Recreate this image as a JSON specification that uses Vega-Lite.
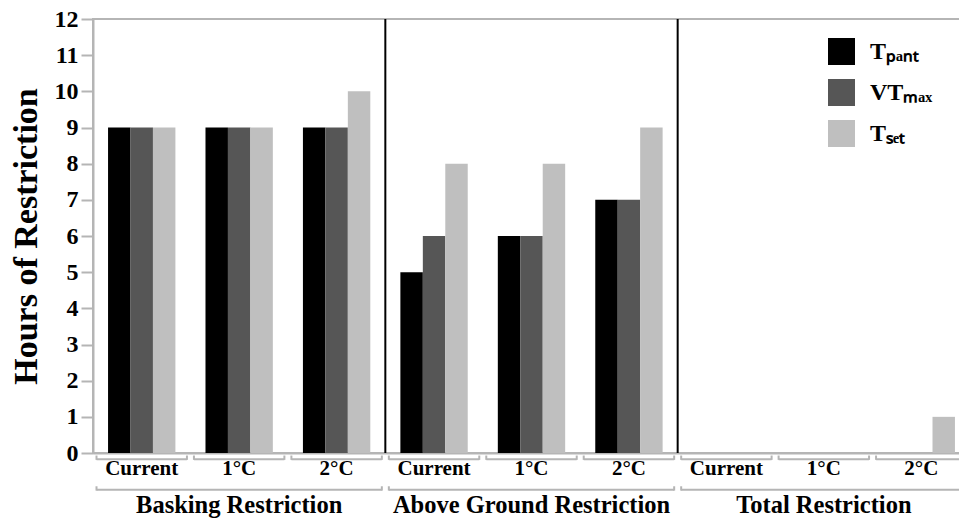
{
  "$schema": "https://vega.github.io/schema/vega-lite/v6.json",
  "width": 877,
  "height": 434,
  "autosize": {"type": "none"},
  "padding": {"left": 93, "top": 19, "right": 0, "bottom": 66},
  "background": "white",
  "config": {
    "font": "Liberation Serif",
    "view": {"stroke": "#b5b5b5", "strokeWidth": 2},
    "axisY": {
      "grid": false, "labelOverlap": false, "tickCount": 12,
      "domainColor": "#b5b5b5", "domainWidth": 2, "tickColor": "#b5b5b5", "tickWidth": 2, "tickSize": 12,
      "labelFont": "Liberation Serif", "labelFontSize": 24, "labelFontWeight": "bold", "labelColor": "black", "labelPadding": 3,
      "titleFont": "Liberation Serif", "titleFontSize": 34, "titleFontWeight": "bold", "titleColor": "black", "titlePadding": 11
    },
    "axisX": {
      "ticks": false, "domainColor": "#b5b5b5", "domainWidth": 2, "labelAngle": 0,
      "labelExpr": "split(datum.label, '|')[1]",
      "labelFont": "Liberation Serif", "labelFontSize": 21, "labelFontWeight": "bold", "labelColor": "black", "labelPadding": 4
    }
  },
  "datasets": {
    "bars": [
      {"panel": "Basking Restriction", "group": "Current", "key": "Basking Restriction|Current", "series": "Tₚₐₙₜ", "hours": 9},
      {"panel": "Basking Restriction", "group": "Current", "key": "Basking Restriction|Current", "series": "VTₘₐₓ", "hours": 9},
      {"panel": "Basking Restriction", "group": "Current", "key": "Basking Restriction|Current", "series": "Tₛₑₜ", "hours": 9},
      {"panel": "Basking Restriction", "group": "1°C", "key": "Basking Restriction|1°C", "series": "Tₚₐₙₜ", "hours": 9},
      {"panel": "Basking Restriction", "group": "1°C", "key": "Basking Restriction|1°C", "series": "VTₘₐₓ", "hours": 9},
      {"panel": "Basking Restriction", "group": "1°C", "key": "Basking Restriction|1°C", "series": "Tₛₑₜ", "hours": 9},
      {"panel": "Basking Restriction", "group": "2°C", "key": "Basking Restriction|2°C", "series": "Tₚₐₙₜ", "hours": 9},
      {"panel": "Basking Restriction", "group": "2°C", "key": "Basking Restriction|2°C", "series": "VTₘₐₓ", "hours": 9},
      {"panel": "Basking Restriction", "group": "2°C", "key": "Basking Restriction|2°C", "series": "Tₛₑₜ", "hours": 10},
      {"panel": "Above Ground Restriction", "group": "Current", "key": "Above Ground Restriction|Current", "series": "Tₚₐₙₜ", "hours": 5},
      {"panel": "Above Ground Restriction", "group": "Current", "key": "Above Ground Restriction|Current", "series": "VTₘₐₓ", "hours": 6},
      {"panel": "Above Ground Restriction", "group": "Current", "key": "Above Ground Restriction|Current", "series": "Tₛₑₜ", "hours": 8},
      {"panel": "Above Ground Restriction", "group": "1°C", "key": "Above Ground Restriction|1°C", "series": "Tₚₐₙₜ", "hours": 6},
      {"panel": "Above Ground Restriction", "group": "1°C", "key": "Above Ground Restriction|1°C", "series": "VTₘₐₓ", "hours": 6},
      {"panel": "Above Ground Restriction", "group": "1°C", "key": "Above Ground Restriction|1°C", "series": "Tₛₑₜ", "hours": 8},
      {"panel": "Above Ground Restriction", "group": "2°C", "key": "Above Ground Restriction|2°C", "series": "Tₚₐₙₜ", "hours": 7},
      {"panel": "Above Ground Restriction", "group": "2°C", "key": "Above Ground Restriction|2°C", "series": "VTₘₐₓ", "hours": 7},
      {"panel": "Above Ground Restriction", "group": "2°C", "key": "Above Ground Restriction|2°C", "series": "Tₛₑₜ", "hours": 9},
      {"panel": "Total Restriction", "group": "Current", "key": "Total Restriction|Current", "series": "Tₚₐₙₜ", "hours": 0},
      {"panel": "Total Restriction", "group": "Current", "key": "Total Restriction|Current", "series": "VTₘₐₓ", "hours": 0},
      {"panel": "Total Restriction", "group": "Current", "key": "Total Restriction|Current", "series": "Tₛₑₜ", "hours": 0},
      {"panel": "Total Restriction", "group": "1°C", "key": "Total Restriction|1°C", "series": "Tₚₐₙₜ", "hours": 0},
      {"panel": "Total Restriction", "group": "1°C", "key": "Total Restriction|1°C", "series": "VTₘₐₓ", "hours": 0},
      {"panel": "Total Restriction", "group": "1°C", "key": "Total Restriction|1°C", "series": "Tₛₑₜ", "hours": 0},
      {"panel": "Total Restriction", "group": "2°C", "key": "Total Restriction|2°C", "series": "Tₚₐₙₜ", "hours": 0},
      {"panel": "Total Restriction", "group": "2°C", "key": "Total Restriction|2°C", "series": "VTₘₐₓ", "hours": 0},
      {"panel": "Total Restriction", "group": "2°C", "key": "Total Restriction|2°C", "series": "Tₛₑₜ", "hours": 1}
    ],
    "groups": [
      {"key": "Basking Restriction|Current"},
      {"key": "Basking Restriction|1°C"},
      {"key": "Basking Restriction|2°C"},
      {"key": "Above Ground Restriction|Current"},
      {"key": "Above Ground Restriction|1°C"},
      {"key": "Above Ground Restriction|2°C"},
      {"key": "Total Restriction|Current"},
      {"key": "Total Restriction|1°C"},
      {"key": "Total Restriction|2°C"}
    ],
    "panels": [
      {"panel": "Basking Restriction", "first": "Basking Restriction|Current", "mid": "Basking Restriction|1°C", "last": "Basking Restriction|2°C"},
      {"panel": "Above Ground Restriction", "first": "Above Ground Restriction|Current", "mid": "Above Ground Restriction|1°C", "last": "Above Ground Restriction|2°C"},
      {"panel": "Total Restriction", "first": "Total Restriction|Current", "mid": "Total Restriction|1°C", "last": "Total Restriction|2°C"}
    ]
  },
  "layer": [
    {
      "data": {"name": "bars"},
      "mark": {"type": "bar"},
      "encoding": {
        "x": {
          "field": "key", "type": "nominal", "sort": null,
          "scale": {
            "domain": ["Basking Restriction|Current", "Basking Restriction|1°C", "Basking Restriction|2°C", "Above Ground Restriction|Current", "Above Ground Restriction|1°C", "Above Ground Restriction|2°C", "Total Restriction|Current", "Total Restriction|1°C", "Total Restriction|2°C"],
            "paddingInner": 0, "paddingOuter": 0
          },
          "axis": {"title": null}
        },
        "xOffset": {
          "field": "series", "type": "nominal",
          "scale": {"domain": ["Tₚₐₙₜ", "VTₘₐₓ", "Tₛₑₜ"], "paddingInner": 0, "paddingOuter": 0.67}
        },
        "y": {
          "field": "hours", "type": "quantitative",
          "scale": {"domain": [0, 12], "nice": false},
          "axis": {"title": "Hours of Restriction"}
        },
        "color": {
          "field": "series", "type": "nominal",
          "scale": {"domain": ["Tₚₐₙₜ", "VTₘₐₓ", "Tₛₑₜ"], "range": ["#000000", "#565656", "#bfbfbf"]},
          "legend": {
            "title": null, "orient": "none", "legendX": 735, "legendY": 19, "padding": 0,
            "symbolType": "square", "symbolSize": 729, "symbolStrokeWidth": 0, "symbolOpacity": 1,
            "labelFont": "Liberation Serif", "labelFontSize": 24, "labelFontWeight": "bold", "labelColor": "black",
            "labelOffset": 15, "rowPadding": 14
          }
        }
      }
    },
    {
      "data": {"name": "panels"},
      "transform": [{"filter": "datum.panel != 'Basking Restriction'"}],
      "mark": {"type": "rule", "color": "black", "strokeWidth": 2},
      "encoding": {
        "x": {"field": "first", "type": "nominal", "bandPosition": 0, "axis": {"title": null}},
        "y": {"datum": 0, "axis": {"title": "Hours of Restriction"}},
        "y2": {"datum": 12}
      }
    },
    {
      "data": {"name": "groups"},
      "mark": {"type": "rule", "color": "#b5b5b5", "strokeWidth": 2, "xOffset": 3.5, "x2Offset": -3.5},
      "encoding": {
        "x": {"field": "key", "type": "nominal", "bandPosition": 0, "axis": {"title": null}},
        "x2": {"field": "key", "bandPosition": 1},
        "y": {"datum": -0.17, "axis": {"title": "Hours of Restriction"}}
      }
    },
    {
      "data": {"name": "groups"},
      "mark": {"type": "rule", "color": "#b5b5b5", "strokeWidth": 2, "xOffset": 3.5},
      "encoding": {
        "x": {"field": "key", "type": "nominal", "bandPosition": 0, "axis": {"title": null}},
        "y": {"datum": -0.07, "axis": {"title": "Hours of Restriction"}},
        "y2": {"datum": -0.19}
      }
    },
    {
      "data": {"name": "groups"},
      "mark": {"type": "rule", "color": "#b5b5b5", "strokeWidth": 2, "xOffset": -3.5},
      "encoding": {
        "x": {"field": "key", "type": "nominal", "bandPosition": 1, "axis": {"title": null}},
        "y": {"datum": -0.07, "axis": {"title": "Hours of Restriction"}},
        "y2": {"datum": -0.19}
      }
    },
    {
      "data": {"name": "panels"},
      "mark": {"type": "rule", "color": "#b5b5b5", "strokeWidth": 2, "xOffset": 3.5, "x2Offset": -3.5},
      "encoding": {
        "x": {"field": "first", "type": "nominal", "bandPosition": 0, "axis": {"title": null}},
        "x2": {"field": "last", "bandPosition": 1},
        "y": {"datum": -1.015, "axis": {"title": "Hours of Restriction"}}
      }
    },
    {
      "data": {"name": "panels"},
      "mark": {"type": "rule", "color": "#b5b5b5", "strokeWidth": 2, "xOffset": 3.5},
      "encoding": {
        "x": {"field": "first", "type": "nominal", "bandPosition": 0, "axis": {"title": null}},
        "y": {"datum": -0.92, "axis": {"title": "Hours of Restriction"}},
        "y2": {"datum": -1.04}
      }
    },
    {
      "data": {"name": "panels"},
      "mark": {"type": "rule", "color": "#b5b5b5", "strokeWidth": 2, "xOffset": -3.5},
      "encoding": {
        "x": {"field": "last", "type": "nominal", "bandPosition": 1, "axis": {"title": null}},
        "y": {"datum": -0.92, "axis": {"title": "Hours of Restriction"}},
        "y2": {"datum": -1.04}
      }
    },
    {
      "data": {"name": "panels"},
      "mark": {"type": "text", "font": "Liberation Serif", "fontSize": 24.5, "fontWeight": "bold", "color": "black", "baseline": "alphabetic", "align": "center"},
      "encoding": {
        "x": {"field": "mid", "type": "nominal", "axis": {"title": null}},
        "y": {"datum": -1.66, "axis": {"title": "Hours of Restriction"}},
        "text": {"field": "panel"}
      }
    }
  ]
}
